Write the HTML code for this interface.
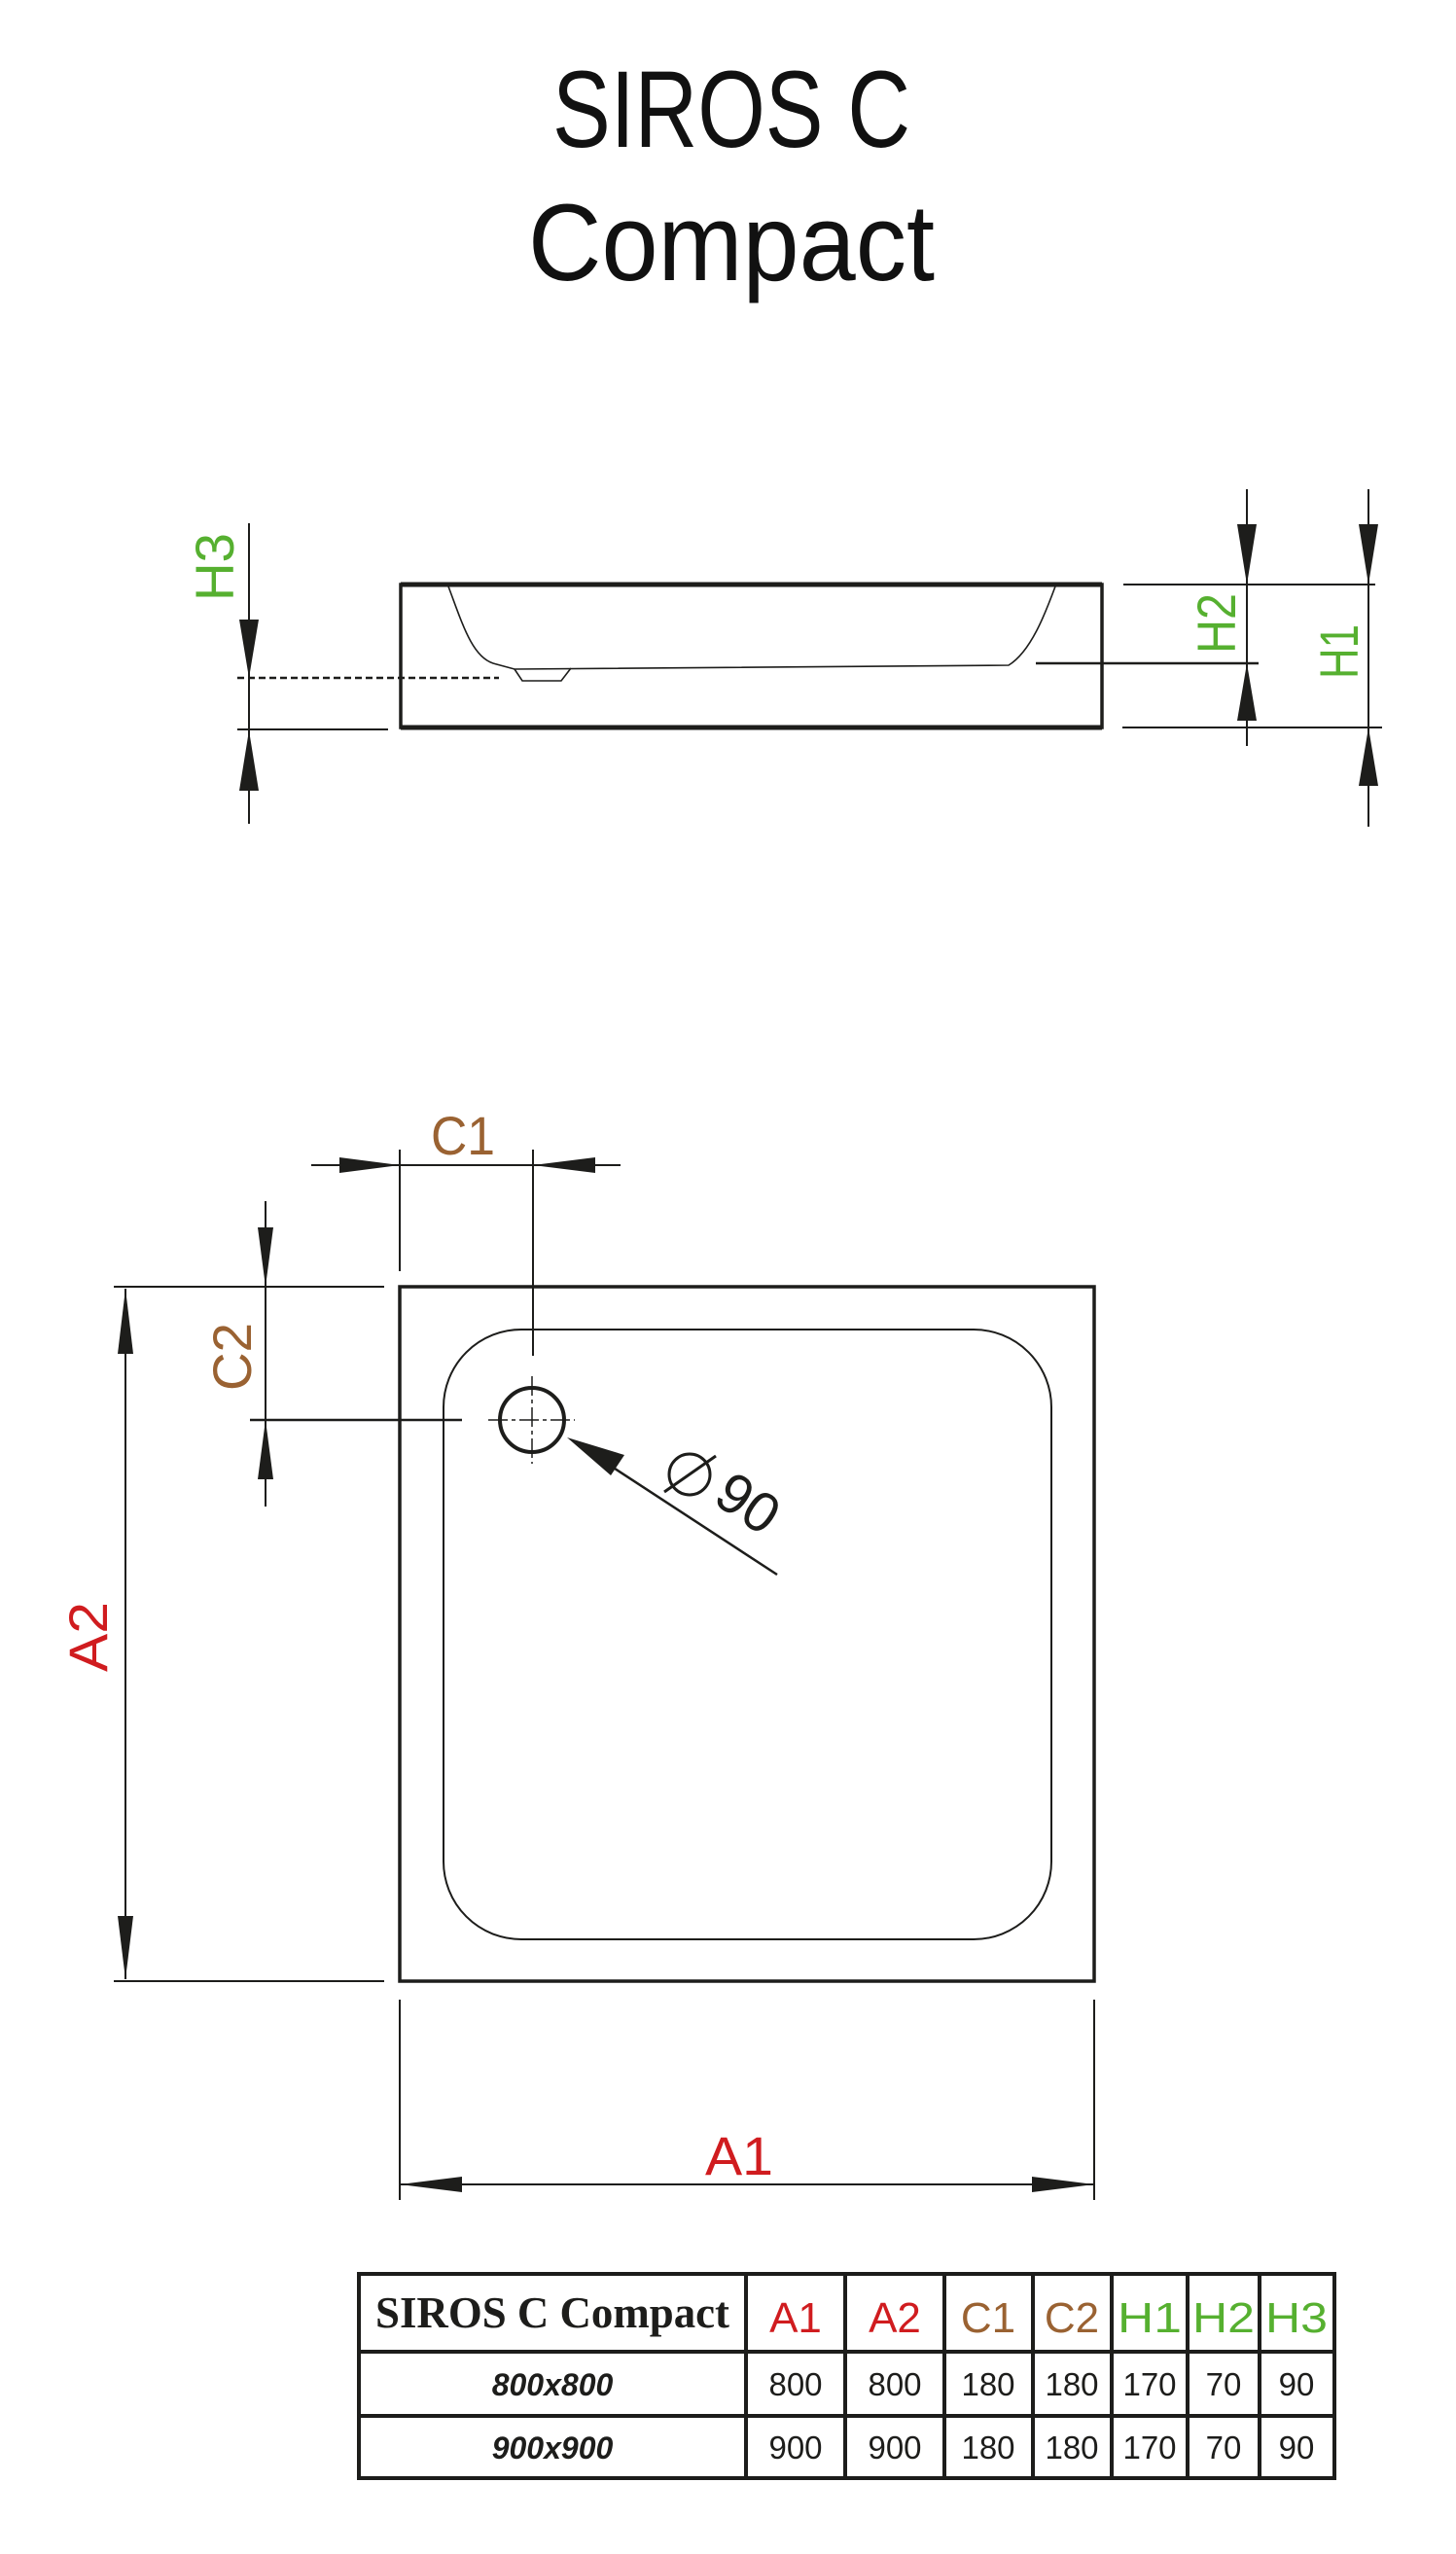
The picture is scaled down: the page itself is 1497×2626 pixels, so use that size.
<!DOCTYPE html>
<html><head><meta charset="utf-8"><style>
html,body{margin:0;padding:0;background:#fff}
svg{display:block}
</style></head><body>
<svg width="1497" height="2626" viewBox="0 0 1497 2626" xmlns="http://www.w3.org/2000/svg" font-family="Liberation Sans, Arial, sans-serif">
<rect width="1497" height="2626" fill="#fff"/>
<!-- Title -->
<text x="752" y="151" font-size="112" text-anchor="middle" textLength="368" lengthAdjust="spacingAndGlyphs" fill="#111">SIROS C</text>
<text x="752" y="288" font-size="112" text-anchor="middle" textLength="418" lengthAdjust="spacingAndGlyphs" fill="#111">Compact</text>

<g stroke="#1d1d1b" fill="none">
<!-- Side view -->
<rect x="412" y="601" width="721" height="147" stroke-width="3.5"/>
<line x1="412" y1="601" x2="1133" y2="601" stroke-width="5"/>
<line x1="412" y1="748" x2="1133" y2="748" stroke-width="5"/>
<path d="M461,603 C475,640 485,675 507,682 L529,688 L1037,684 C1060,670 1075,630 1085,603" stroke-width="1.6"/>
<path d="M529,688 L537,700 L577,700 L587,687" stroke-width="1.6"/>
<line x1="244" y1="697" x2="513" y2="697" stroke-width="2.5" stroke-dasharray="7,4"/>
<line x1="244" y1="750" x2="399" y2="750" stroke-width="2"/>
<line x1="256" y1="538" x2="256" y2="847" stroke-width="2"/>
<line x1="1155" y1="601" x2="1414" y2="601" stroke-width="2"/>
<line x1="1065" y1="682" x2="1294" y2="682" stroke-width="2.5"/>
<line x1="1154" y1="748" x2="1421" y2="748" stroke-width="2"/>
<line x1="1282" y1="503" x2="1282" y2="767" stroke-width="2"/>
<line x1="1407" y1="503" x2="1407" y2="850" stroke-width="2"/>

<!-- Plan view -->
<rect x="411" y="1323" width="714" height="714" stroke-width="3.5"/>
<rect x="456" y="1367" width="625" height="627" rx="80" ry="80" stroke-width="2"/>
<circle cx="547" cy="1460" r="33" stroke-width="4"/>
<line x1="502" y1="1460" x2="591" y2="1460" stroke-width="1.5" stroke-dasharray="20,4,4,4"/>
<line x1="547" y1="1415" x2="547" y2="1505" stroke-width="1.5" stroke-dasharray="20,4,4,4"/>
<!-- C1 -->
<line x1="320" y1="1198" x2="638" y2="1198" stroke-width="2"/>
<line x1="411" y1="1182" x2="411" y2="1307" stroke-width="2"/>
<line x1="548" y1="1182" x2="548" y2="1394" stroke-width="2"/>
<!-- C2 -->
<line x1="273" y1="1235" x2="273" y2="1549" stroke-width="2"/>
<line x1="117" y1="1323" x2="395" y2="1323" stroke-width="2"/>
<line x1="257" y1="1460" x2="475" y2="1460" stroke-width="2.5"/>
<!-- A2 -->
<line x1="129" y1="1325" x2="129" y2="2035" stroke-width="2"/>
<line x1="117" y1="2037" x2="395" y2="2037" stroke-width="2"/>
<!-- A1 -->
<line x1="411" y1="2056" x2="411" y2="2262" stroke-width="2"/>
<line x1="1125" y1="2056" x2="1125" y2="2262" stroke-width="2"/>
<line x1="411" y1="2246" x2="1125" y2="2246" stroke-width="2"/>
<!-- leader -->
<line x1="799" y1="1619" x2="600" y2="1489" stroke-width="2.5"/>
<circle cx="709" cy="1516" r="21" stroke-width="3"/>
<line x1="683" y1="1534" x2="736" y2="1497" stroke-width="3"/>
</g>

<g fill="#1d1d1b">
<polygon points="246,637 266,637 256,697"/>
<polygon points="246,813 266,813 256,751"/>
<polygon points="1272,539 1292,539 1282,601"/>
<polygon points="1272,741 1292,741 1282,682"/>
<polygon points="1397,539 1417,539 1407,601"/>
<polygon points="1397,808 1417,808 1407,748"/>
<polygon points="349,1190 349,1206 411,1198"/>
<polygon points="612,1190 612,1206 548,1198"/>
<polygon points="265,1262 281,1262 273,1323"/>
<polygon points="265,1521 281,1521 273,1460"/>
<polygon points="121,1392 137,1392 129,1325"/>
<polygon points="121,1970 137,1970 129,2035"/>
<polygon points="475,2238 475,2254 411,2246"/>
<polygon points="1061,2238 1061,2254 1125,2246"/>
<polygon points="583,1478 642,1496 628,1517"/>
</g>

<g font-size="56">
<text transform="translate(240,583) rotate(-90)" text-anchor="middle" fill="#56b030" textLength="70" lengthAdjust="spacingAndGlyphs">H3</text>
<text transform="translate(1270,641) rotate(-90)" text-anchor="middle" fill="#56b030" textLength="62" lengthAdjust="spacingAndGlyphs">H2</text>
<text transform="translate(1396,670) rotate(-90)" text-anchor="middle" fill="#56b030" textLength="56" lengthAdjust="spacingAndGlyphs">H1</text>
<text x="476" y="1187" text-anchor="middle" fill="#9a6232" textLength="66" lengthAdjust="spacingAndGlyphs">C1</text>
<text transform="translate(258,1395) rotate(-90)" text-anchor="middle" fill="#9a6232" textLength="70" lengthAdjust="spacingAndGlyphs">C2</text>
<text transform="translate(110,1683) rotate(-90)" text-anchor="middle" fill="#d01c1f" textLength="72" lengthAdjust="spacingAndGlyphs">A2</text>
<text x="760" y="2236" text-anchor="middle" fill="#d01c1f" textLength="70" lengthAdjust="spacingAndGlyphs">A1</text>
<text transform="translate(758,1562) rotate(34)" text-anchor="middle" fill="#1d1d1b" font-size="58">90</text>
</g>

<!-- Table -->
<g stroke="#1d1d1b" stroke-width="4" fill="none">
<rect x="369" y="2338" width="1003" height="210"/>
<line x1="369" y1="2418" x2="1372" y2="2418"/>
<line x1="369" y1="2484" x2="1372" y2="2484"/>
<line x1="767" y1="2338" x2="767" y2="2548"/>
<line x1="869" y1="2338" x2="869" y2="2548"/>
<line x1="971" y1="2338" x2="971" y2="2548"/>
<line x1="1062" y1="2338" x2="1062" y2="2548"/>
<line x1="1143" y1="2338" x2="1143" y2="2548"/>
<line x1="1221" y1="2338" x2="1221" y2="2548"/>
<line x1="1295" y1="2338" x2="1295" y2="2548"/>
</g>
<text x="386" y="2393" font-family="Liberation Serif, serif" font-weight="bold" font-size="46" textLength="364" lengthAdjust="spacingAndGlyphs" fill="#1d1d1b">SIROS C Compact</text>
<g font-size="44" text-anchor="middle">
<text x="818" y="2398" fill="#d01c1f">A1</text>
<text x="920" y="2398" fill="#d01c1f">A2</text>
<text x="1016" y="2398" fill="#9a6232">C1</text>
<text x="1102" y="2398" fill="#9a6232">C2</text>
<text x="1182" y="2398" fill="#56b030" textLength="66" lengthAdjust="spacingAndGlyphs">H1</text>
<text x="1258" y="2398" fill="#56b030" textLength="64" lengthAdjust="spacingAndGlyphs">H2</text>
<text x="1333" y="2398" fill="#56b030" textLength="64" lengthAdjust="spacingAndGlyphs">H3</text>
</g>
<g font-size="32" font-weight="bold" font-style="italic" text-anchor="middle" fill="#1d1d1b">
<text x="568" y="2463">800x800</text>
<text x="568" y="2528">900x900</text>
</g>
<g font-size="33" text-anchor="middle" fill="#1d1d1b">
<text x="818" y="2463">800</text><text x="920" y="2463">800</text><text x="1016" y="2463">180</text><text x="1102" y="2463">180</text><text x="1182" y="2463">170</text><text x="1258" y="2463">70</text><text x="1333" y="2463">90</text>
<text x="818" y="2528">900</text><text x="920" y="2528">900</text><text x="1016" y="2528">180</text><text x="1102" y="2528">180</text><text x="1182" y="2528">170</text><text x="1258" y="2528">70</text><text x="1333" y="2528">90</text>
</g>
</svg>
</body></html>
